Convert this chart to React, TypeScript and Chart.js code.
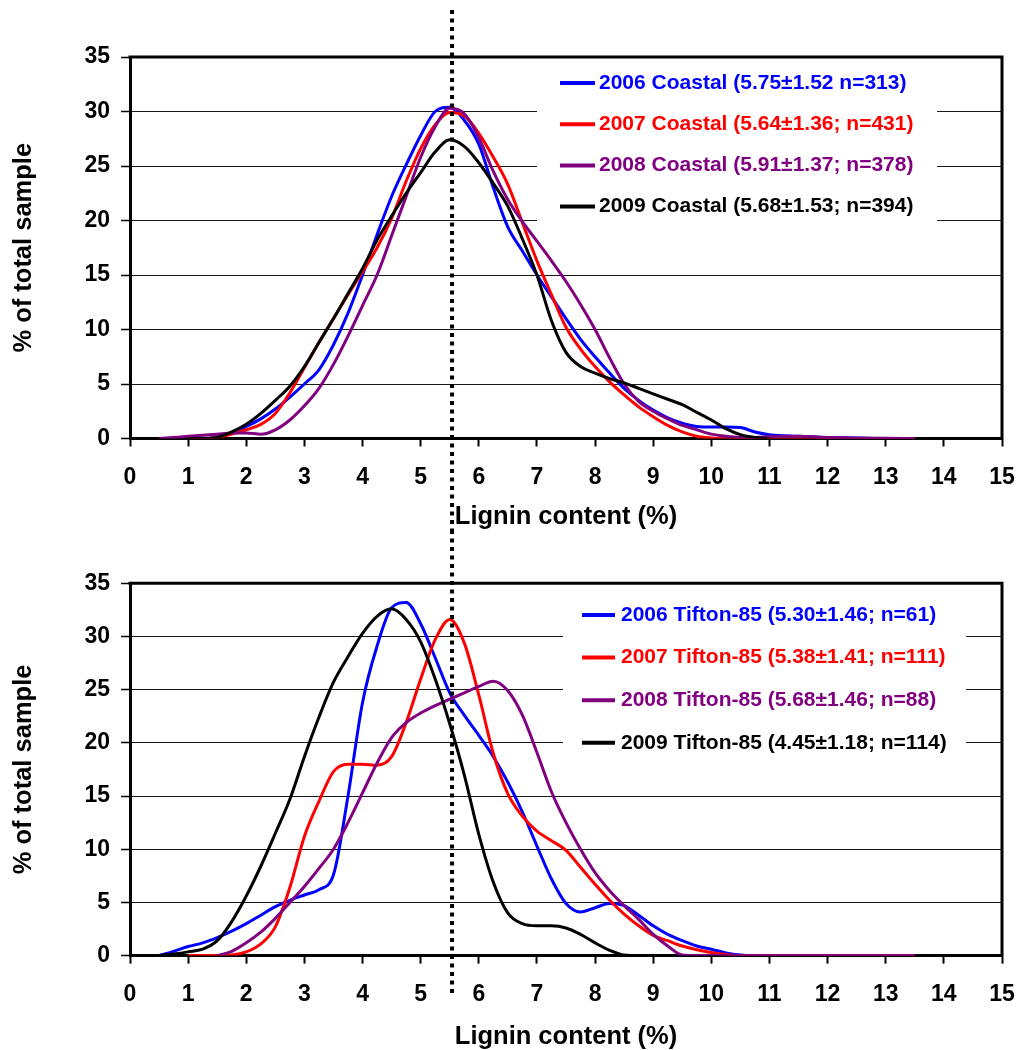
import { useEffect, useRef } from 'react';
import { Chart, registerables } from 'chart.js';

Chart.register(...registerables);

// ---------- data ----------
const X_VALUES = [
  0.5, 0.75, 1, 1.25, 1.5, 1.75, 2, 2.25, 2.5, 2.75, 3, 3.25,
  3.5, 3.75, 4, 4.25, 4.5, 4.75, 5, 5.25, 5.5, 5.75, 6, 6.25,
  6.5, 6.75, 7, 7.25, 7.5, 7.75, 8, 8.25, 8.5, 8.75, 9, 9.25,
  9.5, 9.75, 10, 10.25, 10.5, 10.75, 11, 11.5, 12, 12.5, 13, 13.5,
];

const COASTAL_2006 = [
  null, null, 0, 0, 0.15, 0.5, 1.1, 1.8, 2.7, 3.8, 5.0, 6.3,
  8.6, 11.5, 15.0, 18.7, 22.2, 25.1, 27.8, 30.0, 30.4, 29.2, 27.0, 23.0,
  19.4, 17.2, 15.0, 13.0, 11.0, 9.1, 7.5, 6.0, 4.6, 3.5, 2.6, 1.9,
  1.4, 1.1, 1.05, 1.05, 1.0, 0.6, 0.35, 0.2, 0.1, 0.05, 0, 0,
];
const COASTAL_2007 = [
  null, null, 0, 0, 0.1, 0.4, 0.8, 1.3, 2.3, 4.2, 6.5, 8.8,
  11.0, 13.2, 15.3, 17.5, 20.2, 23.6, 26.6, 28.8, 29.9, 29.6, 28.0, 25.8,
  23.3, 19.8, 16.3, 13.2, 10.2, 8.2, 6.6, 5.2, 4.0, 2.9, 2.0, 1.2,
  0.6, 0.2, 0.05, 0, 0, 0, 0, 0, 0, 0, 0, 0,
];
const COASTAL_2008 = [
  0, 0.1, 0.2, 0.3, 0.4, 0.5, 0.5, 0.4, 0.8, 1.7, 3.0, 4.6,
  6.8, 9.4, 12.2, 15.0, 18.6, 22.2, 25.8, 28.6, 30.3, 29.8, 27.6, 24.5,
  21.9, 19.9, 18.1, 16.3, 14.4, 12.3, 10.0, 7.4, 5.0, 3.4, 2.5, 1.8,
  1.2, 0.8, 0.4, 0.2, 0.1, 0.1, 0.15, 0.2, 0.1, 0.05, 0.02, 0,
];
const COASTAL_2009 = [
  null, null, 0, 0, 0.1, 0.6, 1.3, 2.3, 3.5, 4.8, 6.6, 8.8,
  11.0, 13.3, 15.6, 18.2, 20.4, 22.5, 24.4, 26.3, 27.4, 26.8, 25.3, 23.4,
  21.3, 18.3, 15.0, 10.8, 7.9, 6.6, 6.0, 5.5, 5.1, 4.6, 4.1, 3.6,
  3.1, 2.4, 1.7, 0.9, 0.35, 0.1, 0, null, null, null, null, null,
];

const TIFTON_2006 = [
  0, 0.4, 0.85, 1.2, 1.7, 2.3, 3.0, 3.8, 4.6, 5.2, 5.7, 6.2,
  7.6, 15.0, 23.8, 29.1, 32.7, 33.2, 31.2, 28.0, 24.7, 22.6, 20.7, 18.7,
  16.3, 13.5, 10.3, 7.2, 4.9, 4.1, 4.5, 4.9, 4.7, 3.8, 2.8, 2.0,
  1.4, 0.9, 0.6, 0.25, 0.05, 0, 0, 0, 0, 0, 0, 0,
];
const TIFTON_2007 = [
  null, null, 0, 0, 0, 0.05, 0.35, 1.1, 2.7, 6.4, 11.2, 14.5,
  17.3, 18.0, 18.0, 17.9, 18.7, 21.9, 26.0, 29.7, 31.6, 29.4, 24.5, 19.0,
  15.2, 13.1, 11.7, 10.8, 9.9, 8.3, 6.7, 5.2, 3.9, 2.8, 1.9, 1.4,
  0.9, 0.55, 0.3, 0.1, 0, 0, 0, 0, 0, 0, 0, 0,
];
const TIFTON_2008 = [
  null, null, null, null, 0, 0.4, 1.2, 2.2, 3.5, 5.0, 6.5, 8.2,
  10.0, 12.5, 15.3, 18.1, 20.5, 21.9, 22.8, 23.5, 24.1, 24.7, 25.3, 25.8,
  24.9, 22.6, 19.1, 15.4, 12.5, 10.0, 7.8, 6.1, 4.7, 3.4, 2.0, 0.9,
  0.05, 0, 0, 0, 0, 0, 0, 0, 0, 0, 0, 0,
];
const TIFTON_2009 = [
  0, 0.15, 0.35, 0.6, 1.4, 3.2, 5.6, 8.4, 11.5, 14.7, 18.7, 22.4,
  25.7, 28.1, 30.3, 31.9, 32.6, 31.6, 29.5, 26.0, 21.8, 17.0, 11.4, 6.9,
  4.0, 3.0, 2.8, 2.8, 2.6, 2.0, 1.2, 0.5, 0.05, 0, null, null,
  null, null, null, null, null, null, null, null, null, null, null, null,
];

const COASTAL_LABELS = [
  '2006 Coastal (5.75±1.52 n=313)',
  '2007 Coastal (5.64±1.36; n=431)',
  '2008 Coastal (5.91±1.37; n=378)',
  '2009 Coastal (5.68±1.53; n=394)',
];
const TIFTON_LABELS = [
  '2006 Tifton-85 (5.30±1.46; n=61)',
  '2007 Tifton-85 (5.38±1.41; n=111)',
  '2008 Tifton-85 (5.68±1.46; n=88)',
  '2009 Tifton-85 (4.45±1.18; n=114)',
];
const SERIES_COLORS = ['#0000FF', '#FF0000', '#800080', '#000000'];

const X_MIN = 0;
const X_MAX = 15;
const X_STEP = 1;
const Y_MIN = 0;
const Y_MAX = 35;
const Y_STEP = 5;
const DIVIDER_X = 5.54;

const X_TITLE = 'Lignin content (%)';
const Y_TITLE = '% of total sample';

// ---------- styling ----------
const FONT = '"Liberation Sans", Arial, Helvetica, sans-serif';

type LegendLayout = {
  boxLeft: number; boxRight: number; boxTop: number; boxBottom: number;
  lineX0: number; lineX1: number; textX: number; rowY0: number; rowGap: number;
};

type PanelSpec = {
  height: number;
  plotTop: number;
  plotBottom: number;
  series: (number | null)[][];
  labels: string[];
  legend: LegendLayout;
  dividerFrom: number;
  dividerTo: number;
};

const PANELS: PanelSpec[] = [
  {
    height: 530,
    plotTop: 57,
    plotBottom: 438.5,
    series: [COASTAL_2006, COASTAL_2007, COASTAL_2008, COASTAL_2009],
    labels: COASTAL_LABELS,
    legend: { boxLeft: 537, boxRight: 937, boxTop: 59, boxBottom: 234, lineX0: 560, lineX1: 595, textX: 599, rowY0: 83, rowGap: 41.2 },
    dividerFrom: 10,
    dividerTo: 530,
  },
  {
    height: 520,
    plotTop: 53.3,
    plotBottom: 425.6,
    series: [TIFTON_2006, TIFTON_2007, TIFTON_2008, TIFTON_2009],
    labels: TIFTON_LABELS,
    legend: { boxLeft: 563, boxRight: 966, boxTop: 56, boxBottom: 238, lineX0: 582, lineX1: 615, textX: 621, rowY0: 85, rowGap: 42.6 },
    dividerFrom: 0,
    dividerTo: 465,
  },
];

function buildConfig(spec: PanelSpec): any {
  const datasets = spec.series.map((vals, i) => ({
    label: spec.labels[i],
    data: X_VALUES.map((x, j) => ({ x, y: vals[j] })),
    borderColor: SERIES_COLORS[i],
    backgroundColor: SERIES_COLORS[i],
    borderWidth: 3,
    pointRadius: 0,
    pointHoverRadius: 0,
    fill: false,
    cubicInterpolationMode: 'monotone',
    spanGaps: false,
    order: spec.series.length - 1 - i,
  }));

  const panelPlugin = {
    id: 'panelDecor',
    beforeDatasetsDraw(chart: any) {
      const ctx = chart.ctx;
      const { left, right, top, bottom } = chart.chartArea;
      const L = spec.legend;
      ctx.save();
      // legend background
      ctx.fillStyle = '#ffffff';
      ctx.fillRect(L.boxLeft, L.boxTop, L.boxRight - L.boxLeft, L.boxBottom - L.boxTop);
      // top and right frame
      ctx.strokeStyle = '#000';
      ctx.lineWidth = 3;
      ctx.beginPath();
      ctx.moveTo(left - 1.5, top);
      ctx.lineTo(right, top);
      ctx.lineTo(right, bottom + 1.5);
      ctx.stroke();
      // legend entries
      ctx.font = `bold 21px ${FONT}`;
      ctx.textBaseline = 'middle';
      ctx.textAlign = 'left';
      spec.labels.forEach((lab, i) => {
        const y = L.rowY0 + i * L.rowGap;
        ctx.strokeStyle = SERIES_COLORS[i];
        ctx.lineWidth = 4;
        ctx.beginPath();
        ctx.moveTo(L.lineX0, y);
        ctx.lineTo(L.lineX1, y);
        ctx.stroke();
        ctx.fillStyle = SERIES_COLORS[i];
        ctx.fillText(lab, L.textX, y);
      });
      ctx.restore();
    },
    afterDraw(chart: any) {
      const ctx = chart.ctx;
      const x = chart.scales.x.getPixelForValue(DIVIDER_X);
      ctx.save();
      ctx.strokeStyle = '#000';
      ctx.lineWidth = 4;
      ctx.setLineDash([4, 4.5]);
      ctx.beginPath();
      ctx.moveTo(x, spec.dividerFrom);
      ctx.lineTo(x, spec.dividerTo);
      ctx.stroke();
      ctx.restore();
    },
  };

  const tickFont = { family: FONT, size: 23, weight: 'bold' as const, lineHeight: 1.2 };
  const titleFont = { family: FONT, size: 25.5, weight: 'bold' as const, lineHeight: 1.2 };

  return {
    type: 'line',
    data: { datasets },
    plugins: [panelPlugin],
    options: {
      animation: false,
      responsive: false,
      devicePixelRatio: 1,
      events: [],
      layout: { padding: { top: spec.plotTop, right: 18, left: 0, bottom: 0 } },
      plugins: {
        legend: { display: false },
        tooltip: { enabled: false },
        title: { display: false },
      },
      scales: {
        x: {
          type: 'linear',
          min: X_MIN,
          max: X_MAX,
          ticks: { stepSize: X_STEP, color: '#000', font: tickFont, padding: 17, maxRotation: 0, autoSkip: false },
          grid: { drawOnChartArea: false, drawTicks: true, tickLength: 8, tickColor: '#000', tickWidth: 2 },
          border: { display: true, color: '#000', width: 3 },
          title: { display: true, text: X_TITLE, color: '#000', font: titleFont, padding: { top: 0, bottom: -2.5 } },
          afterFit(scale: any) {
            scale.height = spec.height - spec.plotBottom;
            scale.paddingLeft = 0;
            scale.paddingRight = 0;
          },
        },
        y: {
          type: 'linear',
          min: Y_MIN,
          max: Y_MAX,
          ticks: { stepSize: Y_STEP, color: '#000', font: tickFont, padding: 11 },
          grid: { color: '#1a1a1a', lineWidth: 1, drawTicks: true, tickLength: 9, tickColor: '#000', tickWidth: 1.5 },
          border: { display: true, color: '#000', width: 3 },
          title: { display: true, text: Y_TITLE, color: '#000', font: titleFont, padding: { top: 9, bottom: 0 } },
          afterFit(scale: any) {
            scale.width = 130;
            scale.paddingTop = 0;
            scale.paddingBottom = 0;
          },
        },
      },
    },
  };
}

function Panel({ spec }: { spec: PanelSpec }) {
  const ref = useRef<HTMLCanvasElement | null>(null);
  useEffect(() => {
    if (!ref.current) return;
    const chart = new Chart(ref.current, buildConfig(spec));
    return () => chart.destroy();
  }, [spec]);
  return (
    <canvas
      ref={ref}
      width={1020}
      height={spec.height}
      style={{ display: 'block', width: 1020, height: spec.height }}
    />
  );
}

export default function App() {
  return (
    <div
      style={{
        position: 'fixed',
        left: 0,
        top: 0,
        width: 1020,
        height: 1050,
        background: '#ffffff',
        overflow: 'hidden',
      }}
    >
      {PANELS.map((p, i) => (
        <Panel key={i} spec={p} />
      ))}
    </div>
  );
}
